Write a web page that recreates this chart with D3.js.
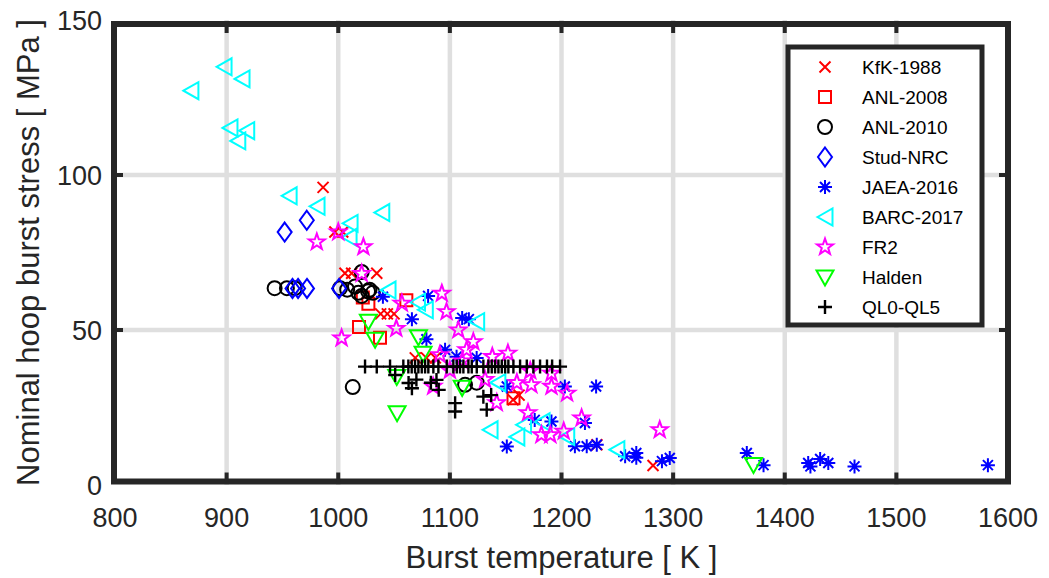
<!DOCTYPE html>
<html><head><meta charset="utf-8">
<script src="https://cdn.jsdelivr.net/npm/d3@7"></script>
<style>body{margin:0;background:#fff;} svg{display:block;}</style>
</head><body>
<svg id="c" width="1049" height="578"></svg>
<script>
// ---- data ----
const xTicks = [800, 900, 1000, 1100, 1200, 1300, 1400, 1500, 1600];
const yTicks = [0, 50, 100, 150];
const seriesNames = ["KfK-1988", "ANL-2008", "ANL-2010", "Stud-NRC", "JAEA-2016", "BARC-2017", "FR2", "Halden", "QL0-QL5"];

const kfk1988 = [[986.4,96],[997,81.6],[1004,81.6],[1006,68.3],[1012,68.3],[1034.5,68.3],[1038,55.2],[1044,55.2],[1050,55.2],
  [1069,41],[1079,41],[1087,41],[1156.6,27.5],[1162,29],[1231.7,13],[1282,6.3]];
const anl2008 = [[1022,60.5],[1027,58.5],[1061,59.6],[1018.6,51],[1037.4,47.5],[1157,28]];
const anl2010 = [[943,63.5],[954,63.5],[961,63.5],[1001.6,63.5],[1008,63],[1015,64],[1018,62],[1021,61],[1026.7,62.5],[1031,62],
  [1028,63],[1021,68.7],[1013,31.6],[1113.6,32.3],[1124,33]];
const studNRC = [[952,81.6],[971.8,85.4],[959,63.4],[964,63.4],[972,63.4],[1000.7,63.4]];
const jaea2016 = [[1040,60.7],[1080.5,61],[1066,53.5],[1079,47],[1111,53.9],[1117,53.5],[1095.7,43.6],[1106,41.4],[1124,41],
  [1151,31.8],[1151,12.4],[1203,31.8],[1231,31.8],[1176,21],[1191,20.5],[1221,20],[1212,12.5],[1222.6,12.5],[1231.6,13],
  [1257,9.3],[1267,10.3],[1267,8.8],[1290,7.7],[1297,8.7],[1366,10.3],[1381,6.4],[1423,6],[1421,7.1],[1431.7,8.4],
  [1439,7.1],[1462.5,6],[1582,6.4]];
const barc2017 = [[868,127.2],[897.7,134.9],[913.8,131],[903,115.2],[918,114.3],[910,111],[956,93.3],[981,89.9],[1039,87.9],
  [1010.6,84.4],[1009.7,79.9],[1044.6,62.9],[1071,59],[1078,56.5],[1124,52.7],[1143,33],[1136,17.8],[1160,15.5],[1166,19.4],
  [1182.6,20.4],[1204.7,15.6],[1249.6,11.4]];
const fr2 = [[980.8,78.4],[1022.5,76.8],[1000,81.6],[1021,68.2],[1003,47.4],[1057,58.6],[1092.8,61.8],[1097,55.9],[1107.6,50],
  [1052,50.5],[1121,46.2],[1091,42],[1115,43.6],[1138,41.4],[1152,42.5],[1172,36.8],[1173,32.3],[1131.5,34],[1142,26.5],
  [1170,23.3],[1085,31.8],[1191,36],[1191,31.8],[1205,29.6],[1182,16.2],[1190,16.2],[1202,17.3],[1218,21.6],[1288,17.8],
  [1111,40],[1100,37],[1160,33]];
const halden = [[1027,52.8],[1033,47],[1071.8,47.8],[1076,42.5],[1052.4,35],[1052.7,23.3],[1111,31.5],[1372,6.6]];
const ql = [[1024,38.2],[1034.5,38.2],[1046.4,38.2],[1058.3,38.2],[1062.8,38.2],[1065.8,38.2],[1068.8,38.2],[1071.8,38.2],
  [1074.8,38.2],[1077.8,38.2],[1080.7,38.2],[1085.2,38.2],[1089.7,38.2],[1097.2,38.2],[1103.1,38.2],[1106.2,38.2],
  [1109.1,38.2],[1112.1,38.2],[1116.6,38.2],[1119.6,38.2],[1124.1,38.2],[1130,38.2],[1134.5,38.2],[1137.5,38.2],
  [1140.5,38.2],[1143.5,38.2],[1146.5,38.2],[1149.5,38.2],[1152.4,38.2],[1156.9,38.2],[1162.9,38.2],[1168.9,38.2],
  [1174.8,38.2],[1180.8,38.2],[1187,38.2],[1191.6,38.2],[1198.7,38.2],
  [1051,35.5],[1063,32.9],[1066,31.2],[1070,34],[1083,33],[1088,33.9],[1090,30.7],[1104.7,26.4],[1104.7,23.7],
  [1130,28.5],[1133,24.3],[1137,29]];
const seriesData = [kfk1988, anl2008, anl2010, studNRC, jaea2016, barc2017, fr2, halden, ql];
const seriesColors = ["#ff0000", "#ff0000", "#000000", "#0000ff", "#0000ff", "#00ffff", "#ff00ff", "#00ff00", "#000000"];

// ---- markers ----
function star(ro, ri) {
  let p = "";
  for (let i = 0; i < 10; i++) {
    const r = i % 2 ? ri : ro, a = -Math.PI / 2 + i * Math.PI / 5;
    p += (i ? "L" : "M") + (r * Math.cos(a)).toFixed(2) + "," + (r * Math.sin(a)).toFixed(2);
  }
  return p + "Z";
}
const markerPaths = [
  "M-5.5,-5.5L5.5,5.5M-5.5,5.5L5.5,-5.5",
  "M-6,-6H6V6H-6Z",
  "M7,0A7,7 0 1,1 -7,0A7,7 0 1,1 7,0Z",
  "M0,-9.5L7,0L0,9.5L-7,0Z",
  "M-7,0H7M0,-7V7M-5,-5L5,5M-5,5L5,-5",
  "M-7.5,0L7.5,-8.5L7.5,8.5Z",
  star(8.5, 3.4),
  "M-8.5,-6.5L8.5,-6.5L0,8.5Z",
  "M-7,0H7M0,-7V7"
];
const markerWidths = [2, 2, 2, 2, 2, 2, 2, 2, 2.4];

// ---- chart ----
const svg = d3.select("#c");
const x = d3.scaleLinear().domain([800, 1600]).range([115, 1008]);
const y = d3.scaleLinear().domain([0, 150]).range([485, 20]);
const font = "'Liberation Sans', Arial, Helvetica, sans-serif";
const axisColor = "#262626";

// grid
const g = svg.append("g");
g.selectAll("line.gx").data(xTicks.slice(1, -1)).join("line")
  .attr("x1", d => x(d)).attr("x2", d => x(d)).attr("y1", y(150)).attr("y2", y(0))
  .attr("stroke", "#dfdfdf").attr("stroke-width", 4.5);
g.selectAll("line.gy").data(yTicks.slice(1, -1)).join("line")
  .attr("y1", d => y(d)).attr("y2", d => y(d)).attr("x1", x(800)).attr("x2", x(1600))
  .attr("stroke", "#dfdfdf").attr("stroke-width", 4.5);

// points
seriesData.forEach((data, i) => {
  svg.append("g").selectAll("path").data(data).join("path")
    .attr("d", markerPaths[i])
    .attr("transform", d => `translate(${x(d[0])},${y(d[1])})`)
    .attr("fill", "none").attr("stroke", seriesColors[i]).attr("stroke-width", markerWidths[i]);
});

// box
const bx0 = x(800) - 1, bx1 = x(1600), by0 = y(150) + 4, by1 = y(0) - 3.5;
svg.append("rect").attr("x", bx0).attr("y", by0).attr("width", bx1 - bx0).attr("height", by1 - by0)
  .attr("fill", "none").attr("stroke", axisColor).attr("stroke-width", 6);
// inward ticks
const tk = svg.append("g").attr("stroke", axisColor).attr("stroke-width", 4);
xTicks.slice(1, -1).forEach(d => {
  tk.append("line").attr("x1", x(d)).attr("x2", x(d)).attr("y1", by1).attr("y2", by1 - 9);
  tk.append("line").attr("x1", x(d)).attr("x2", x(d)).attr("y1", by0).attr("y2", by0 + 9);
});
yTicks.slice(1, -1).forEach(d => {
  tk.append("line").attr("y1", y(d)).attr("y2", y(d)).attr("x1", bx0).attr("x2", bx0 + 9);
  tk.append("line").attr("y1", y(d)).attr("y2", y(d)).attr("x1", bx1).attr("x2", bx1 - 9);
});

// tick labels
svg.append("g").selectAll("text").data(xTicks).join("text")
  .attr("x", d => x(d)).attr("y", 527).attr("text-anchor", "middle")
  .attr("font-family", font).attr("font-size", 27).attr("fill", axisColor).text(d => d);
svg.append("g").selectAll("text").data(yTicks).join("text")
  .attr("x", 102).attr("y", d => y(d) + 10).attr("text-anchor", "end")
  .attr("font-family", font).attr("font-size", 27).attr("fill", axisColor).text(d => d);

// axis titles
svg.append("text").attr("x", (x(800) + x(1600)) / 2).attr("y", 568).attr("text-anchor", "middle")
  .attr("font-family", font).attr("font-size", 31).attr("fill", axisColor).text("Burst temperature [ K ]");
svg.append("text").attr("transform", `translate(39,${(y(0) + y(150)) / 2}) rotate(-90)`).attr("text-anchor", "middle")
  .attr("font-family", font).attr("font-size", 31).attr("fill", axisColor).text("Nominal hoop burst stress [ MPa ]");

// legend
const lg = svg.append("g");
lg.append("rect").attr("x", 788).attr("y", 47).attr("width", 194).attr("height", 278)
  .attr("fill", "#fff").attr("stroke", axisColor).attr("stroke-width", 5);
seriesNames.forEach((name, i) => {
  const ly = 67 + i * 30;
  lg.append("path").attr("d", markerPaths[i]).attr("transform", `translate(825,${ly})`)
    .attr("fill", "none").attr("stroke", seriesColors[i]).attr("stroke-width", markerWidths[i]);
  lg.append("text").attr("x", 862).attr("y", ly + 7).attr("font-family", font).attr("font-size", 19)
    .attr("fill", "#000").text(name);
});
</script>
</body></html>
